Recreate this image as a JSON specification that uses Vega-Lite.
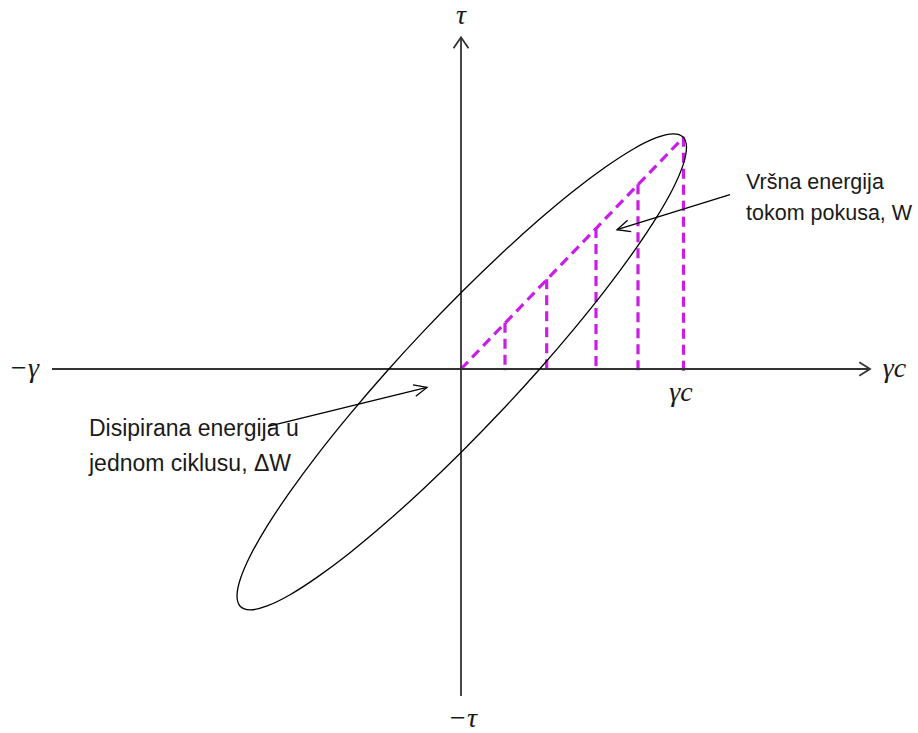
{
  "$schema": "https://vega.github.io/schema/vega-lite/v6.json",
  "width": 918,
  "height": 733,
  "padding": 0,
  "autosize": {"type": "fit", "contains": "padding"},
  "background": "white",
  "config": {"view": {"stroke": null}},
  "datasets": {
    "axes": [
      {"g": "x", "o": 0, "x": -408.5, "y": 0},
      {"g": "x", "o": 1, "x": 409.5, "y": 0},
      {"g": "xh", "o": 0, "x": 398.8, "y": 6.7},
      {"g": "xh", "o": 1, "x": 409.5, "y": 0},
      {"g": "xh", "o": 2, "x": 398.8, "y": -6.7},
      {"g": "y", "o": 0, "x": 0.5, "y": -327.5},
      {"g": "y", "o": 1, "x": 0.5, "y": 332.2},
      {"g": "yh", "o": 0, "x": -7, "y": 321.2},
      {"g": "yh", "o": 1, "x": 0.5, "y": 332.2},
      {"g": "yh", "o": 2, "x": 8, "y": 321.2}
    ],
    "arrows": [
      {"g": "a1", "o": 0, "x": -192.5, "y": -57.5},
      {"g": "a1", "o": 1, "x": -33.5, "y": -18.5},
      {"g": "a1h", "o": 0, "x": -44.7, "y": -27.4},
      {"g": "a1h", "o": 1, "x": -33.5, "y": -18.5},
      {"g": "a1h", "o": 2, "x": -47.5, "y": -15.8},
      {"g": "a2", "o": 0, "x": 269.5, "y": 174.5},
      {"g": "a2", "o": 1, "x": 156.5, "y": 139.5},
      {"g": "a2h", "o": 0, "x": 170.7, "y": 137.6},
      {"g": "a2h", "o": 1, "x": 156.5, "y": 139.5},
      {"g": "a2h", "o": 2, "x": 167.1, "y": 149}
    ],
    "ellipse": [
      {"o": 0, "x": 226.0, "y": 221.7},
      {"o": 10, "x": 222.6, "y": 232.2},
      {"o": 20, "x": 212.5, "y": 235.5},
      {"o": 30, "x": 195.9, "y": 231.6},
      {"o": 40, "x": 173.4, "y": 220.6},
      {"o": 50, "x": 145.7, "y": 202.7},
      {"o": 60, "x": 113.6, "y": 178.7},
      {"o": 70, "x": 78.1, "y": 149.1},
      {"o": 80, "x": 40.3, "y": 114.9},
      {"o": 90, "x": 1.25, "y": 77.1},
      {"o": 100, "x": -37.8, "y": 36.9},
      {"o": 110, "x": -75.6, "y": -4.5},
      {"o": 120, "x": -111.1, "y": -45.9},
      {"o": 130, "x": -143.2, "y": -85.9},
      {"o": 140, "x": -170.9, "y": -123.5},
      {"o": 150, "x": -193.4, "y": -157.3},
      {"o": 160, "x": -210.0, "y": -186.5},
      {"o": 170, "x": -220.1, "y": -210.1},
      {"o": 180, "x": -223.5, "y": -227.4},
      {"o": 190, "x": -220.1, "y": -237.9},
      {"o": 200, "x": -210.0, "y": -241.2},
      {"o": 210, "x": -193.4, "y": -237.3},
      {"o": 220, "x": -170.9, "y": -226.3},
      {"o": 230, "x": -143.2, "y": -208.4},
      {"o": 240, "x": -111.1, "y": -184.4},
      {"o": 250, "x": -75.6, "y": -154.8},
      {"o": 260, "x": -37.8, "y": -120.6},
      {"o": 270, "x": 1.25, "y": -82.8},
      {"o": 280, "x": 40.3, "y": -42.6},
      {"o": 290, "x": 78.1, "y": -1.2},
      {"o": 300, "x": 113.6, "y": 40.2},
      {"o": 310, "x": 145.7, "y": 80.2},
      {"o": 320, "x": 173.4, "y": 117.8},
      {"o": 330, "x": 195.9, "y": 151.6},
      {"o": 340, "x": 212.5, "y": 180.8},
      {"o": 350, "x": 222.6, "y": 204.4}
    ],
    "dash": [
      {"g": "d", "o": 0, "x": 0.5, "y": 0},
      {"g": "d", "o": 1, "x": 223.5, "y": 232.5},
      {"g": "v1", "o": 0, "x": 44.5, "y": 46.4},
      {"g": "v1", "o": 1, "x": 44.5, "y": -2},
      {"g": "v2", "o": 0, "x": 86.2, "y": 89.9},
      {"g": "v2", "o": 1, "x": 86.2, "y": -2},
      {"g": "v3", "o": 0, "x": 135.5, "y": 141.3},
      {"g": "v3", "o": 1, "x": 135.5, "y": -2},
      {"g": "v4", "o": 0, "x": 177.5, "y": 185.1},
      {"g": "v4", "o": 1, "x": 177.5, "y": -2},
      {"g": "v5", "o": 0, "x": 223, "y": 232.5},
      {"g": "v5", "o": 1, "x": 223, "y": -2}
    ],
    "math": [
      {"label": "τ", "x": 0.5, "y": 345.5},
      {"label": "−γ", "x": -436.5, "y": -8},
      {"label": "γc", "x": 434, "y": -8.5},
      {"label": "γc", "x": 220.5, "y": -32.5},
      {"label": "−τ", "x": 2, "y": -358.5}
    ],
    "noteR": [
      {"label": "Vršna energija\ntokom pokusa, W", "x": 285.5, "y": 180.5}
    ],
    "noteL": [
      {"label": "Disipirana energija u\njednom ciklusu, ΔW", "x": -371.5, "y": -67}
    ]
  },
  "encoding": {
    "x": {"field": "x", "type": "quantitative", "scale": {"domain": [-460.5, 457.5], "nice": false, "zero": false}, "axis": null},
    "y": {"field": "y", "type": "quantitative", "scale": {"domain": [-363.5, 369.5], "nice": false, "zero": false}, "axis": null}
  },
  "layer": [
    {
      "data": {"name": "dash"},
      "mark": {"type": "line", "color": "#c81ee6", "strokeWidth": 3.2, "strokeDash": [10, 6]},
      "encoding": {"detail": {"field": "g"}, "order": {"field": "o", "type": "quantitative"}}
    },
    {
      "data": {"name": "axes"},
      "mark": {"type": "line", "color": "#333333", "strokeWidth": 1.8},
      "encoding": {"detail": {"field": "g"}, "order": {"field": "o", "type": "quantitative"}}
    },
    {
      "data": {"name": "ellipse"},
      "mark": {"type": "line", "color": "#000000", "strokeWidth": 1.3, "interpolate": "cardinal-closed"},
      "encoding": {"order": {"field": "o", "type": "quantitative"}}
    },
    {
      "data": {"name": "noteR"},
      "mark": {"type": "text", "font": "Liberation Sans", "fontSize": 21.5, "lineHeight": 31, "align": "left", "baseline": "alphabetic", "lineBreak": "\n", "color": "#1a1a1a"},
      "encoding": {"text": {"field": "label"}}
    },
    {
      "data": {"name": "noteL"},
      "mark": {"type": "text", "font": "Liberation Sans", "fontSize": 23, "lineHeight": 35, "align": "left", "baseline": "alphabetic", "lineBreak": "\n", "color": "#1a1a1a"},
      "encoding": {"text": {"field": "label"}}
    },
    {
      "data": {"name": "arrows"},
      "mark": {"type": "line", "color": "#000000", "strokeWidth": 1.3},
      "encoding": {"detail": {"field": "g"}, "order": {"field": "o", "type": "quantitative"}}
    },
    {
      "data": {"name": "math"},
      "mark": {"type": "text", "font": "Liberation Serif", "fontStyle": "italic", "fontSize": 28, "align": "center", "baseline": "alphabetic", "color": "#1a1a1a"},
      "encoding": {"text": {"field": "label"}}
    }
  ]
}
